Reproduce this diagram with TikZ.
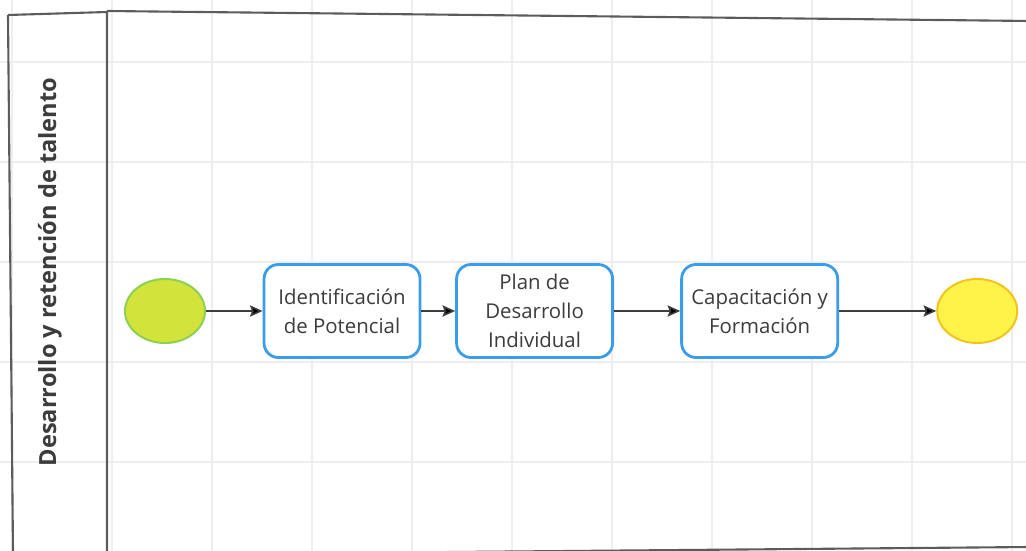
\documentclass[tikz,border=0pt]{standalone}
\usepackage{fontspec}
\setmainfont{Open Sans}
\usetikzlibrary{positioning, arrows.meta, shapes.geometric}
\definecolor{laneline}{HTML}{5C5C5C}
\definecolor{gridgray}{HTML}{EEEEEE}
\definecolor{taskblue}{HTML}{3A9CEB}
\definecolor{startfill}{HTML}{D2E43C}
\definecolor{startborder}{HTML}{8DCF50}
\definecolor{endfill}{HTML}{FFF249}
\definecolor{endborder}{HTML}{F4C31A}
\definecolor{flowgray}{HTML}{3E3E3E}
\definecolor{textgray}{HTML}{3C3C3C}
\tikzset{
    >={Stealth[length=9pt, width=8pt, inset=1.5pt]}, % Filled arrowheads
    task/.style={rectangle, draw=taskblue, line width=2pt, rounded corners=0.36cm,
        fill=white, minimum width=3.9cm, minimum height=2.325cm, align=center,
        text=textgray, font=\fontsize{14.5}{20.5}\selectfont}, % Activity boxes
    event/.style={ellipse, line width=1.4pt, inner sep=0pt,
        minimum width=2cm, minimum height=1.6cm}, % Start and end events
    flow/.style={->, draw=flowgray, line width=1.1pt}, % Sequence flows
    gridline/.style={draw=gridgray, line width=0.8pt}, % Background grid
    lane/.style={draw=laneline, line width=1.5pt}, % Pool borders
}

\begin{document}
\begin{tikzpicture}[x=0.025cm, y=-0.025cm, node distance=4cm, on grid]
    \useasboundingbox (0,0) rectangle (1026,551);

    % grid
    \foreach \gx in {12,112,...,1012}
        \draw[gridline] (\gx,0) -- (\gx,551);
    \foreach \gy in {62,162,...,462}
        \draw[gridline] (0,\gy) -- (1026,\gy);

    % pool and lane header
    \draw[lane] (8,15) -- (107,12) -- (107,553);
    \draw[lane] (8,15) -- (13,553);
    \draw[lane] (107,11) -- (1030,21);
    \draw[lane] (107,555) -- (1030,547);
    \node[rotate=90, text=textgray, font=\fontsize{16.8}{20}\bfseries\selectfont]
        (lanetitle) at (50,272) {Desarrollo y retención de talento};

    % process
    \node[event, draw=startborder, fill=startfill] (start) at (165,311) {};
    \node[task] (t1) [right=4.425cm of start] {Identificación\\de Potencial};
    \node[task] (t2) [right=4.8125cm of t1] {Plan de\\Desarrollo\\Individual};
    \node[task] (t3) [right=5.625cm of t2] {Capacitación y\\Formación};
    \node[event, draw=endborder, fill=endfill] (end) [right=5.4375cm of t3] {};

    \path[flow]
        (start) edge (t1)
        (t1) edge (t2)
        (t2) edge (t3)
        (t3) edge (end);
\end{tikzpicture}
\end{document}
